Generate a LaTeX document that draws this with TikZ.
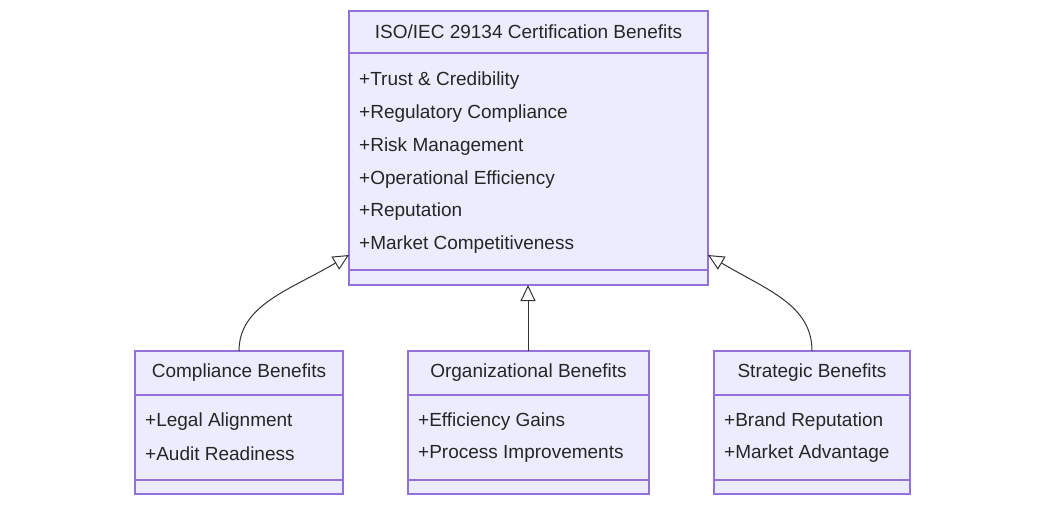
\documentclass[tikz,border=0pt]{standalone}
\usepackage{fontspec}
\setmainfont{Liberation Sans}
\usetikzlibrary{arrows.meta}
\definecolor{classfill}{HTML}{ECECFF}
\definecolor{classline}{HTML}{9370DB}
\tikzset{classbox/.style={draw=classline, fill=classfill, line width=1.2pt}}
\tikzset{member/.style={anchor=west, inner sep=0pt, font=\fontsize{19}{19}\selectfont, text=black!85}}
\tikzset{title/.style={inner sep=0pt, font=\fontsize{19}{19}\selectfont, text=black!85}}
\tikzset{inherit/.style={draw=black!80, line width=1pt, -{Triangle[open, fill=white, length=16pt, width=15pt]}}}
\begin{document}
\begin{tikzpicture}[x=1pt,y=-1pt]
\useasboundingbox (0,0) rectangle (1046,505);
%main class
\draw[classbox] (349,11) rectangle (708,285);
\draw[classline, line width=1.2pt] (349,53)--(708,53) (349,270)--(708,270);
\node (main) at (528.5,32)[title]{ISO/IEC 29134 Certification Benefits};
\node (m1) at (359,81)[member]{+Trust \& Credibility};
\node (m2) at (359,114)[member]{+Regulatory Compliance};
\node (m3) at (359,147)[member]{+Risk Management};
\node (m4) at (359,180)[member]{+Operational Efficiency};
\node (m5) at (359,212)[member]{+Reputation};
\node (m6) at (359,245)[member]{+Market Competitiveness};
%compliance
\draw[classbox] (135,351) rectangle (343,494);
\draw[classline, line width=1.2pt] (135,395)--(343,395) (135,480)--(343,480);
\node (comp) at (239,373)[title]{Compliance Benefits};
\node (c1) at (145,422)[member]{+Legal Alignment};
\node (c2) at (145,454)[member]{+Audit Readiness};
%organizational
\draw[classbox] (408,351) rectangle (649,494);
\draw[classline, line width=1.2pt] (408,395)--(649,395) (408,480)--(649,480);
\node (org) at (528.5,373)[title]{Organizational Benefits};
\node (o1) at (418,422)[member]{+Efficiency Gains};
\node (o2) at (418,454)[member]{+Process Improvements};
%strategic
\draw[classbox] (714,351) rectangle (910,494);
\draw[classline, line width=1.2pt] (714,395)--(910,395) (714,480)--(910,480);
\node (strat) at (812,373)[title]{Strategic Benefits};
\node (s1) at (724,422)[member]{+Brand Reputation};
\node (s2) at (724,454)[member]{+Market Advantage};
%arrows
\coordinate (cin) at (239,351);
\coordinate (oin) at (528,351);
\coordinate (sin) at (812,351);
\coordinate (mleft) at (349,255);
\coordinate (mbot) at (528,285);
\coordinate (mright) at (708,255);
\draw[inherit] (cin) .. controls (239,305) and (290,290) .. (mleft);
\draw[inherit] (oin)--(mbot);
\draw[inherit] (sin) .. controls (812,305) and (767,290) .. (mright);
\end{tikzpicture}
\end{document}
